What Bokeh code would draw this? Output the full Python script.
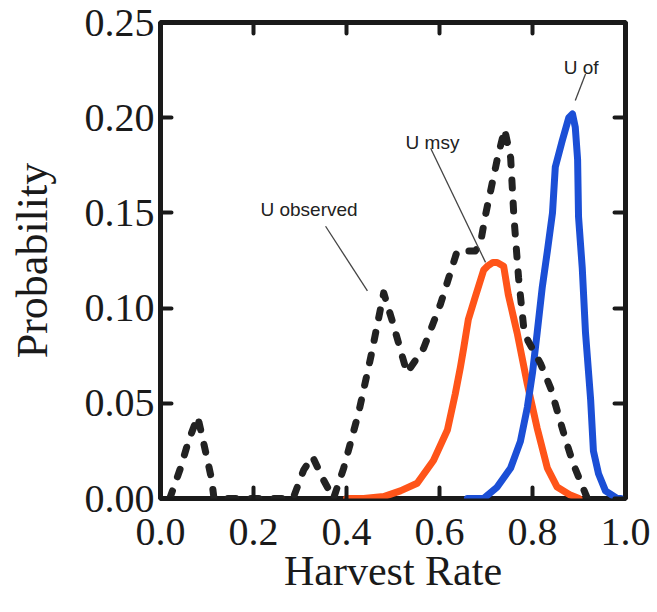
from bokeh.plotting import figure
from bokeh.models import Range1d, LinearAxis, FixedTicker, Label, ColumnDataSource
from bokeh.embed import file_html
from bokeh.resources import INLINE

# ---- data ----
x_ticks = [0.0, 0.2, 0.4, 0.6, 0.8, 1.0]
x_labels = ["0.0", "0.2", "0.4", "0.6", "0.8", "1.0"]
y_ticks = [0.0, 0.05, 0.10, 0.15, 0.20, 0.25]
y_labels = ["0.00", "0.05", "0.10", "0.15", "0.20", "0.25"]

obs_x = [0.02, 0.043, 0.06, 0.08, 0.093, 0.11, 0.115, 0.285, 0.308, 0.327, 0.35, 0.372,
         0.394, 0.426, 0.452, 0.48, 0.50, 0.53, 0.566, 0.602, 0.638, 0.677, 0.688,
         0.699, 0.725, 0.74, 0.753, 0.76, 0.77, 0.781, 0.79, 0.817, 0.839, 0.871, 0.888, 0.918]
obs_y = [0.0, 0.016, 0.03, 0.043, 0.029, 0.01, 0.0, 0.0, 0.015, 0.022, 0.01, 0.0,
         0.016, 0.045, 0.074, 0.108, 0.092, 0.066, 0.079, 0.102, 0.13, 0.13, 0.134,
         0.149, 0.179, 0.194, 0.179, 0.148, 0.116, 0.09, 0.083, 0.071, 0.058, 0.031, 0.018, 0.0]

msy_x = [0.40, 0.437, 0.48, 0.516, 0.552, 0.587, 0.617, 0.634, 0.645, 0.652, 0.662, 0.677,
         0.695, 0.703, 0.715, 0.724, 0.738, 0.748, 0.767, 0.789, 0.81, 0.832, 0.853, 0.88, 0.90]
msy_y = [0.0, 0.0, 0.001, 0.004, 0.008, 0.02, 0.036, 0.055, 0.069, 0.079, 0.094, 0.106,
         0.12, 0.122, 0.124, 0.124, 0.122, 0.107, 0.087, 0.06, 0.037, 0.016, 0.006, 0.002, 0.0]

of_x = [0.66, 0.695, 0.724, 0.753, 0.774, 0.789, 0.80, 0.81, 0.821, 0.832, 0.843, 0.849,
        0.864, 0.878, 0.886, 0.892, 0.897, 0.899, 0.907, 0.914, 0.925, 0.931, 0.942, 0.957, 0.982, 0.99]
of_y = [0.0, 0.0, 0.006, 0.016, 0.03, 0.048, 0.066, 0.087, 0.111, 0.13, 0.15, 0.174,
        0.188, 0.2, 0.202, 0.195, 0.178, 0.148, 0.121, 0.087, 0.052, 0.025, 0.013, 0.004, 0.0, 0.0]

ann_text = ["U observed", "U msy", "U of"]
ann_tx = [0.215, 0.527, 0.867]
ann_ty = [0.152, 0.187, 0.2264]
lead_x0 = [0.355, 0.581, 0.914]
lead_y0 = [0.143, 0.184, 0.223]
lead_x1 = [0.445, 0.699, 0.892]
lead_y1 = [0.109, 0.124, 0.209]

SERIF = "Liberation Serif"
SANS = "Liberation Sans"

p = figure(width=657, height=612, output_backend="svg", toolbar_location=None,
           x_range=Range1d(0, 1), y_range=Range1d(0, 0.25),
           x_axis_label="Harvest Rate", y_axis_label="Probability",
           min_border_left=160, min_border_right=32, min_border_top=22, min_border_bottom=114)
p.background_fill_color = "white"
p.border_fill_color = "white"
p.grid.visible = False
p.outline_line_color = "#1a1a1a"
p.outline_line_width = 5
p.outline_line_alpha = 1.0

def style_axis(ax, ticks, labels, show_labels):
    ax.ticker = FixedTicker(ticks=ticks)
    ax.axis_line_color = None
    ax.major_tick_in = 11
    ax.major_tick_out = 0
    ax.major_tick_line_width = 4
    ax.major_tick_line_color = "#1a1a1a"
    ax.major_tick_line_cap = "round"
    ax.minor_tick_line_color = None
    if show_labels:
        ax.major_label_overrides = {t: l for t, l in zip(ticks, labels)}
        ax.major_label_text_font = SERIF
        ax.major_label_text_font_size = "40px"
        ax.major_label_text_color = "#1a1a1a"
        ax.axis_label_text_font = SERIF
        ax.axis_label_text_font_style = "normal"
        ax.axis_label_text_color = "#1a1a1a"
    else:
        ax.major_label_overrides = {t: "" for t in ticks}
        ax.major_label_text_font_size = "1px"
        ax.major_label_standoff = 0

style_axis(p.xaxis[0], x_ticks, x_labels, True)
style_axis(p.yaxis[0], y_ticks, y_labels, True)
p.xaxis[0].major_label_standoff = 20
p.xaxis[0].axis_label_text_font_size = "42px"
p.xaxis[0].axis_label_standoff = 0
p.yaxis[0].major_label_standoff = 6
p.yaxis[0].axis_label_text_font_size = "44px"
p.yaxis[0].axis_label_standoff = 25

top = LinearAxis()
style_axis(top, x_ticks, x_labels, False)
p.add_layout(top, "above")
right = LinearAxis()
style_axis(right, y_ticks, y_labels, False)
p.add_layout(right, "right")

p.line(msy_x, msy_y, line_color="#FF5419", line_width=7, line_join="round", line_cap="round")
p.line(of_x, of_y, line_color="#1B4FD6", line_width=7, line_join="round", line_cap="round")
p.line(obs_x, obs_y, line_color="#222222", line_width=7, line_dash="8 15",
       line_join="round", line_cap="round")

src = ColumnDataSource(dict(x0=lead_x0, y0=lead_y0, x1=lead_x1, y1=lead_y1))
p.segment(x0="x0", y0="y0", x1="x1", y1="y1", source=src, line_color="#444444", line_width=1.3)

for t, tx, ty in zip(ann_text, ann_tx, ann_ty):
    p.add_layout(Label(x=tx, y=ty, text=t, text_font=SANS, text_font_size="19px",
                       text_color="#222222", text_baseline="alphabetic"))

open("out.html", "w").write(file_html(p, INLINE))
